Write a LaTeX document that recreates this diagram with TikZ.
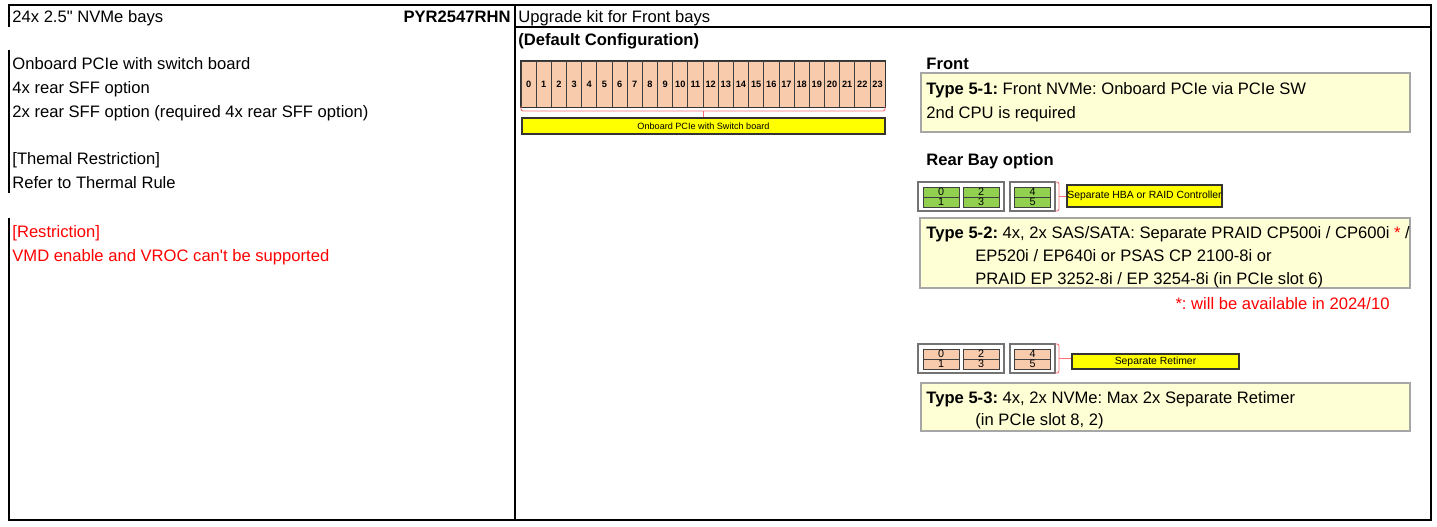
\documentclass[tikz,border=0pt]{standalone}
\usepackage{fontspec}
\setmainfont{Liberation Sans}
\usetikzlibrary{positioning}
\frenchspacing

\definecolor{peach}{HTML}{F8CBAD}
\definecolor{bgreen}{HTML}{92D050}
\definecolor{ylw}{HTML}{FFFF00}
\definecolor{note}{HTML}{FFFFD5}
\definecolor{noteline}{HTML}{A6A6A6}
\definecolor{xred}{HTML}{FF0000}
\definecolor{brk}{HTML}{FF6F73}

\tikzset{
  txt/.style={anchor=base west, inner sep=0pt, font=\fontsize{8.3}{10}\selectfont},
  txtb/.style={txt, font=\bfseries\fontsize{8.3}{10}\selectfont},
  bay/.style={draw=black!75, fill=peach, minimum width=7.58pt, minimum height=23pt, inner sep=0pt, font=\bfseries\fontsize{4.6}{5}\selectfont},
  rbay/.style={draw=black!75, minimum width=18pt, minimum height=5pt, inner sep=0pt, font=\fontsize{5.4}{5}\selectfont},
  ctl/.style={draw=black!80, line width=0.6pt, fill=ylw, inner sep=0pt, font=\fontsize{5.2}{6}\selectfont},
  notebox/.style={draw=noteline, line width=1pt, fill=note},
  cage/.style={draw=black!55, line width=0.6pt},
  frame/.style={line width=1pt},
  brace/.style={draw=brk, line width=0.45pt, rounded corners=1pt},
}

\begin{document}
\begin{tikzpicture}[x=0.5pt, y=-0.5pt]
    \useasboundingbox (0,0) rectangle (1437,526);

    \draw[frame] (8,5) -- (1431,5) -- (1431,520) -- (8,520);
    \draw[frame] (9,5) -- (9,27);
    \draw[frame] (9,50) -- (9,193);
    \draw[frame] (9,218) -- (9,520);
    \draw[frame] (514.5,5) -- (514.5,520);
    \draw[frame] (514.5,27) -- (1431,27);

    \node[txt] (bays) at (12,22) {24x 2.5\textquotedbl{} NVMe bays};
    \node[txtb, anchor=base east] (part) at (511,22) {PYR2547RHN};
    \node[txt] (kit) at (518,22) {Upgrade kit for Front bays};
    \node[txtb] (defcfg) at (518,45) {(Default Configuration)};

    \node[txt] (onboard) at (12,69) {Onboard PCIe with switch board};
    \node[txt] (rear4) at (12,93) {4x rear SFF option};
    \node[txt] (rear2) at (12,117) {2x rear SFF option (required 4x rear SFF option)};
    \node[txt] (thermhd) at (12,164) {[Themal Restriction]};
    \node[txt] (thermrl) at (12,188) {Refer to Thermal Rule};
    \node[txt, text=xred] (restrhd) at (12,237) {[Restriction]};
    \node[txt, text=xred] (restr) at (12,261) {VMD enable and VROC can\textquotesingle t be supported};

    \foreach \i in {0,...,23}
        \node[bay] (bay\i) at ({528.6+15.17*\i},84) {\i};
    \draw[draw=black!80, line width=0.75pt] (bay0.north west) rectangle (bay23.south east);
    \draw[brace] (521,106) -- (521,111) -- (885,111) -- (885,106);
    \coordinate (frbrk) at (703.5,111);
    \node[ctl, minimum width=181.5pt, minimum height=8pt, font=\fontsize{4.55}{5}\selectfont] (pcsw) at (703.5,126) {Onboard PCIe with Switch board};
    \draw[draw=brk, line width=0.45pt] (frbrk) -- (frbrk |- pcsw.north);

    \node[txtb] (front) at (926,69) {Front};
    \draw[notebox] (921,73) rectangle (1410,132);
    \node[txt] (t51a) at (926,94) {\textbf{Type 5-1:} Front NVMe: Onboard PCIe via PCIe SW};
    \node[txt] (t51b) at (926,118) {2nd CPU is required};

    \node[txtb] (rearhd) at (926,165) {Rear Bay option};

    \foreach \r/\y/\c in {h/182/bgreen, t/344/peach}{
        \draw[cage] (918,\y) rectangle (1004,{\y+29});
        \draw[cage] (1010,\y) rectangle (1055,{\y+29});
        \foreach \n/\m/\x in {0/1/941, 2/3/981, 4/5/1032.5}{
            \node[rbay, fill=\c] (\r\n) at (\x,{\y+10}) {\n};
            \node[rbay, fill=\c] (\r\m) at (\x,{\y+20}) {\m};
        }
        \draw[brace] (1055,\y) -- (1059,\y) -- (1059,{\y+29}) -- (1055,{\y+29});
        \coordinate (\r brk) at (1059,{\y+14.5});
    }

    \node[ctl, minimum width=77.5pt, minimum height=11pt] (hba) at (1144.5,196) {Separate HBA or RAID Controller};
    \draw[draw=brk, line width=0.45pt] (hbrk) -- (hba.west |- hbrk);
    \node[ctl, minimum width=83.5pt, minimum height=7.5pt] (retimer) at (1155.5,361.5) {Separate Retimer};
    \draw[draw=brk, line width=0.45pt] (tbrk) -- (retimer.west |- tbrk);

    \draw[notebox] (920,218) rectangle (1410,288);
    \node[txt] (t52a) at (926,238) {\textbf{Type 5-2:} 4x, 2x SAS/SATA: Separate PRAID CP500i / CP600i \textcolor{xred}{*} /};
    \node[txt] (t52b) at (975,261) {EP520i / EP640i or PSAS CP 2100-8i or};
    \node[txt] (t52c) at (975,284) {PRAID EP 3252-8i / EP 3254-8i (in PCIe slot 6)};
    \node[txt, anchor=base east, text=xred] (avail) at (1390,309) {*: will be available in 2024/10};

    \draw[notebox] (921,383) rectangle (1410,431);
    \node[txt] (t53a) at (926,403) {\textbf{Type 5-3:} 4x, 2x NVMe: Max 2x Separate Retimer};
    \node[txt] (t53b) at (975,425) {(in PCIe slot 8, 2)};
\end{tikzpicture}
\end{document}
